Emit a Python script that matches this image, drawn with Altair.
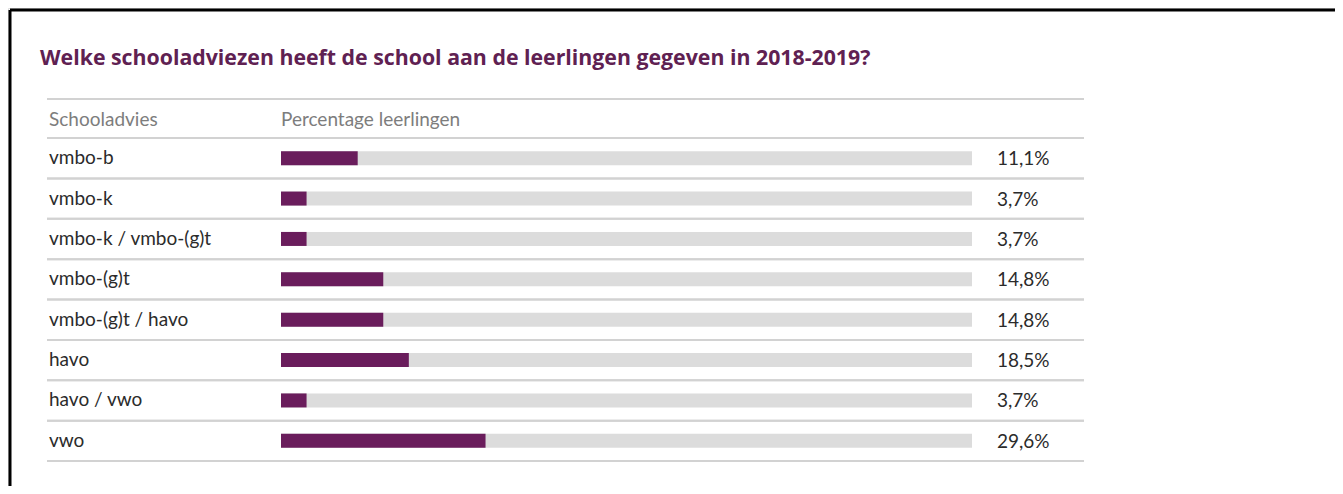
import altair as alt
import pandas as pd

# ---- data ----
categories = ["vmbo-b", "vmbo-k", "vmbo-k / vmbo-(g)t", "vmbo-(g)t",
              "vmbo-(g)t / havo", "havo", "havo / vwo", "vwo"]
values = [11.1, 3.7, 3.7, 14.8, 14.8, 18.5, 3.7, 29.6]
title_text = "Welke schooladviezen heeft de school aan de leerlingen gegeven in 2018-2019?"
header_left = "Schooladvies"
header_right = "Percentage leerlingen"

df = pd.DataFrame({
    "cat": categories,
    "val": values,
    "full": [100.0] * len(categories),
    "label": [f"{v:.1f}".replace(".", ",") + "%" for v in values],
})
one = alt.Data(values=[{"a": 1}])

FONT = "Lato"
PURPLE = "#6a1d5c"
TITLE_PURPLE = "#5f2152"
LINE = "#d2d2d2"
W, H = 1327, 478
FS = 19

yscale = alt.Scale(domain=categories, range=[130, 453], paddingInner=0, paddingOuter=0)
xscale = alt.Scale(domain=[0, 100], range=[273, 964], nice=False, zero=True)

Y = lambda **kw: alt.Y("cat:N", sort=categories, scale=yscale, axis=None, **kw)

base = alt.Chart(df)

# frame (top + left)
frame_top = alt.Chart(one).mark_rule(color="#000", strokeWidth=3).encode(
    x=alt.value(2), x2=alt.value(W + 8), y=alt.value(2))
frame_left = alt.Chart(one).mark_rule(color="#000", strokeWidth=3).encode(
    x=alt.value(2), y=alt.value(2), y2=alt.value(H + 8))

title = alt.Chart(one).mark_text(
    text=title_text, align="left", baseline="alphabetic", font="Open Sans",
    fontSize=21.3, fontWeight="bold", color=TITLE_PURPLE
).encode(x=alt.value(32), y=alt.value(57))

head_line = alt.Chart(one).mark_rule(color=LINE, strokeWidth=2).encode(
    x=alt.value(39), x2=alt.value(1076), y=alt.value(91))
head_l = alt.Chart(one).mark_text(
    text=header_left, align="left", baseline="middle", font=FONT,
    fontSize=FS, color="#7d7d7d").encode(x=alt.value(41), y=alt.value(112))
head_r = alt.Chart(one).mark_text(
    text=header_right, align="left", baseline="middle", font=FONT,
    fontSize=FS, color="#7d7d7d").encode(x=alt.value(273), y=alt.value(112))

sep_top = base.mark_rule(color=LINE, strokeWidth=2).encode(
    y=Y(bandPosition=0), x=alt.value(39), x2=alt.value(1076))
sep_bot = base.mark_rule(color=LINE, strokeWidth=2).encode(
    y=Y(bandPosition=1), x=alt.value(39), x2=alt.value(1076))

bg = base.mark_bar(size=14, color="#dcdcdc").encode(
    y=Y(), x=alt.X("full:Q", scale=xscale, axis=None))
bars = base.mark_bar(size=14, color=PURPLE).encode(
    y=Y(), x=alt.X("val:Q", scale=xscale, axis=None))

row_lbl = base.mark_text(align="left", baseline="middle", font=FONT,
                         fontSize=FS, color="#2b2b2b").encode(
    y=Y(), x=alt.value(41), text="cat:N")
val_lbl = base.mark_text(align="left", baseline="middle", font=FONT,
                         fontSize=FS, color="#2b2b2b", dy=1).encode(
    y=Y(), x=alt.value(989), text="label:N")

chart = alt.layer(
    frame_top, frame_left, title, head_line, head_l, head_r,
    sep_top, sep_bot, bg, bars, row_lbl, val_lbl
).properties(
    width=W, height=H, padding=0, autosize=alt.AutoSizeParams(type="none")
).configure_view(stroke=None).configure(background="#ffffff")

chart.save("out.html", embed_options={"renderer": "svg", "actions": False})
